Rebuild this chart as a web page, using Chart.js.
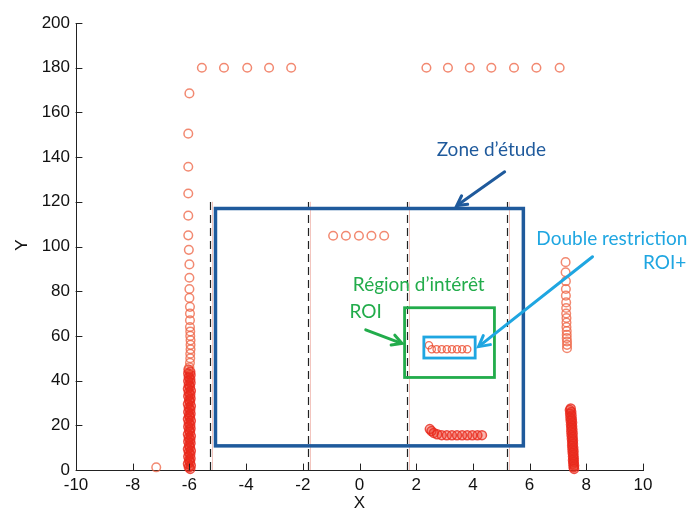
<!DOCTYPE html>
<html>
<head>
<meta charset="utf-8">
<script src="https://cdn.jsdelivr.net/npm/chart.js@4.4.1/dist/chart.umd.min.js"></script>
<style>
  html, body { margin: 0; padding: 0; background: #fff; }
  #chart { display: block; }
</style>
</head>
<body>
<canvas id="chart" width="689" height="514"></canvas>
<script>
// Axis ticks
const xTicks = [-10, -8, -6, -4, -2, 0, 2, 4, 6, 8, 10];
const yTicks = [0, 20, 40, 60, 80, 100, 120, 140, 160, 180, 200];

// Point groups, [x, y]
const lonePoint = [[-7.17, 1.2]];
const leftColumn = [
  [-6.0, 168.5], [-6.04, 150.5], [-6.04, 135.7], [-6.04, 123.7], [-6.04, 113.8],
  [-6.04, 105], [-6.02, 98.5], [-6.0, 92], [-6.0, 86], [-6.0, 81], [-6.0, 77],
  [-5.98, 73], [-5.98, 70], [-5.98, 67], [-5.98, 64], [-5.97, 62], [-5.97, 60],
  [-5.96, 58], [-5.96, 56], [-5.96, 54], [-5.97, 52], [-5.97, 50], [-5.98, 48], [-6.0, 46]
];
const leftDense = [
  [-6.03, 45], [-5.97, 44], [-6.04, 43.2], [-5.96, 42.5], [-6.02, 41.5], [-5.97, 40.6],
  [-6.04, 39.8], [-5.96, 39], [-6.02, 38], [-5.98, 37.2], [-6.05, 36.4], [-5.95, 35.5],
  [-6.02, 34.7], [-5.97, 33.8], [-6.04, 33], [-5.96, 32], [-6.01, 31.2], [-5.98, 30.4],
  [-6.05, 29.5], [-5.95, 28.6], [-6.02, 27.8], [-5.97, 27], [-6.04, 26], [-5.96, 25.2],
  [-6.01, 24.4], [-5.98, 23.6], [-6.05, 22.8], [-5.95, 22], [-6.02, 21], [-5.97, 20.2],
  [-6.04, 19.4], [-5.96, 18.6], [-6.01, 17.8], [-5.98, 17], [-6.05, 16], [-5.95, 15.2],
  [-6.02, 14.4], [-5.97, 13.6], [-6.04, 12.8], [-5.96, 12], [-6.01, 11], [-5.98, 10.2],
  [-6.05, 9.4], [-5.95, 8.6], [-6.02, 7.8], [-5.97, 7], [-6.04, 6], [-5.96, 5.2],
  [-6.01, 4.4], [-5.98, 3.6], [-6.05, 2.8], [-5.95, 2], [-6.02, 1.2], [-5.97, 0.5]
];
const topLeftRow = [[-5.56, 180], [-4.78, 180], [-3.96, 180], [-3.19, 180], [-2.41, 180]];
const topRightRow = [[2.36, 180], [3.12, 180], [3.89, 180], [4.65, 180], [5.45, 180], [6.24, 180], [7.06, 180]];
const middleRow = [[-0.93, 104.8], [-0.48, 104.8], [-0.02, 104.8], [0.42, 104.8], [0.87, 104.8]];
const roiPlusRow = [
  [2.45, 55.8], [2.55, 54], [2.72, 54], [2.9, 54], [3.08, 54], [3.26, 54],
  [3.44, 54], [3.62, 54], [3.8, 54]
];
const bottomRow = [
  [2.48, 18.3], [2.54, 17.4], [2.62, 16.6], [2.74, 16], [2.9, 15.6], [3.08, 15.5],
  [3.26, 15.5], [3.44, 15.5], [3.62, 15.5], [3.8, 15.5], [3.98, 15.5], [4.16, 15.5],
  [4.32, 15.6]
];
const rightColumn = [
  [7.27, 93], [7.27, 88.5], [7.28, 84.5], [7.28, 81], [7.28, 78], [7.29, 75], [7.29, 72.5],
  [7.29, 70], [7.3, 68], [7.3, 66], [7.3, 64], [7.31, 62.2], [7.31, 60.5], [7.31, 59],
  [7.32, 57.5], [7.32, 56], [7.32, 54.5]
];
const rightDense = [
  [7.45, 27.5], [7.42, 26.8], [7.47, 26], [7.43, 25.2], [7.48, 24.4], [7.44, 23.5],
  [7.49, 22.7], [7.45, 22], [7.5, 21.2], [7.46, 20.4], [7.5, 19.6], [7.47, 18.8],
  [7.51, 18], [7.47, 17.2], [7.52, 16.4], [7.48, 15.6], [7.52, 14.8], [7.49, 14],
  [7.53, 13.2], [7.5, 12.4], [7.53, 11.6], [7.5, 10.8], [7.54, 10], [7.51, 9.2],
  [7.55, 8.4], [7.52, 7.6], [7.55, 6.8], [7.53, 6], [7.56, 5.2], [7.53, 4.4],
  [7.56, 3.6], [7.54, 2.8], [7.57, 2], [7.55, 1.2], [7.57, 0.5]
];

// Annotation geometry in data units
const dashedLinesX = [-5.29, -1.8, 1.67, 5.2];
const dashedTopY = 120;
const zoneBox = [-5.08, 10.8, 5.78, 117];   // x0, y0, x1, y1
const roiBox = [1.59, 41.4, 4.76, 72.6];
const roiPlusBox = [2.27, 50.1, 4.08, 59.5];

const zoneColor = '#1f5a9c';
const roiColor = '#22ac4b';
const roiPlusColor = '#1fa6e1';
const pointColor = 'rgba(238, 98, 66, 0.75)';
const denseColor = 'rgba(232, 40, 28, 0.8)';
const denseFill = 'rgba(235, 45, 30, 0.35)';

const sparseGroups = [lonePoint, leftColumn, topLeftRow, topRightRow, middleRow, rightColumn];
const denseGroups = [leftDense, bottomRow, rightDense];

const datasets = [
  ...sparseGroups.map(g => ({
    data: g.map(p => ({ x: p[0], y: p[1] })),
    pointRadius: 4.3,
    pointBorderWidth: 1.5,
    pointBorderColor: pointColor,
    pointBackgroundColor: 'rgba(0,0,0,0)'
  })),
  {
    data: roiPlusRow.map(p => ({ x: p[0], y: p[1] })),
    pointRadius: 3.6,
    pointBorderWidth: 1.3,
    pointBorderColor: 'rgba(236, 72, 42, 0.8)',
    pointBackgroundColor: 'rgba(0,0,0,0)'
  },
  ...denseGroups.map(g => ({
    data: g.map(p => ({ x: p[0], y: p[1] })),
    pointRadius: 4.5,
    pointBorderWidth: 1.5,
    pointBorderColor: denseColor,
    pointBackgroundColor: denseFill
  }))
].map(d => Object.assign(d, { showLine: false, pointStyle: 'circle', clip: false }));

function arrow(ctx, x0, y0, x1, y1, color, width, head) {
  const a = Math.atan2(y1 - y0, x1 - x0);
  ctx.strokeStyle = color;
  ctx.lineWidth = width;
  ctx.lineCap = 'round';
  ctx.beginPath();
  ctx.moveTo(x0, y0);
  ctx.lineTo(x1 - Math.cos(a) * 2, y1 - Math.sin(a) * 2);
  ctx.stroke();
  ctx.beginPath();
  ctx.moveTo(x1 - head * Math.cos(a - 0.5), y1 - head * Math.sin(a - 0.5));
  ctx.lineTo(x1, y1);
  ctx.lineTo(x1 - head * Math.cos(a + 0.5), y1 - head * Math.sin(a + 0.5));
  ctx.stroke();
}

// Draw boxes, dashed lines, arrows, labels, inward ticks
const annotations = {
  id: 'annotations',
  beforeDatasetsDraw(chart) {
    const ctx = chart.ctx;
    const xs = chart.scales.x, ys = chart.scales.y;
    const px = v => xs.getPixelForValue(v);
    const py = v => ys.getPixelForValue(v);
    ctx.save();
    // dashed verticals
    dashedLinesX.forEach(v => {
      const x = Math.round(px(v)) + 0.5;
      ctx.setLineDash([]);
      ctx.strokeStyle = 'rgba(220, 90, 70, 0.35)';
      ctx.lineWidth = 1;
      ctx.beginPath();
      ctx.moveTo(x + 2, py(0));
      ctx.lineTo(x + 2, py(dashedTopY));
      ctx.stroke();
      ctx.setLineDash([8, 5]);
      ctx.strokeStyle = '#222';
      ctx.lineWidth = 1.2;
      ctx.beginPath();
      ctx.moveTo(x, py(0));
      ctx.lineTo(x, py(dashedTopY));
      ctx.stroke();
    });
    ctx.setLineDash([]);
    ctx.restore();
  },
  afterDatasetsDraw(chart) {
    const ctx = chart.ctx;
    const xs = chart.scales.x, ys = chart.scales.y;
    const px = v => xs.getPixelForValue(v);
    const py = v => ys.getPixelForValue(v);
    ctx.save();
    const box = (b, color, w) => {
      ctx.strokeStyle = color;
      ctx.lineWidth = w;
      ctx.lineJoin = 'miter';
      ctx.strokeRect(px(b[0]), py(b[3]), px(b[2]) - px(b[0]), py(b[1]) - py(b[3]));
    };
    box(zoneBox, zoneColor, 3.5);
    box(roiBox, roiColor, 2.8);
    box(roiPlusBox, roiPlusColor, 2.8);

    arrow(ctx, px(5.12), py(133.4), px(3.43), py(118.3), zoneColor, 3, 11);
    arrow(ctx, px(0.22), py(62.7), px(1.5), py(56.6), roiColor, 3, 11);
    arrow(ctx, px(8.22), py(95.4), px(4.2), py(55.2), roiPlusColor, 3, 12);

    ctx.font = '19px Lato, "Open Sans", sans-serif';
    ctx.textBaseline = 'middle';
    ctx.textAlign = 'center';
    ctx.fillStyle = zoneColor;
    ctx.fillText('Zone d\u2019étude', px(4.65), py(143.3));
    ctx.fillStyle = roiColor;
    ctx.fillText('Région d\u2019intérêt', px(2.09), py(82.8));
    ctx.fillText('ROI', px(0.22), py(70.7));
    ctx.fillStyle = roiPlusColor;
    ctx.fillText('Double restriction', px(8.9), py(103.4));
    ctx.textAlign = 'right';
    ctx.fillText('ROI+', px(11.53), py(92.7));

    // inward tick marks
    ctx.strokeStyle = '#222';
    ctx.lineWidth = 1;
    const bottom = ys.getPixelForValue(0), left = xs.getPixelForValue(-10);
    xTicks.forEach(v => {
      const x = Math.round(px(v)) + 0.5;
      ctx.beginPath();
      ctx.moveTo(x, bottom);
      ctx.lineTo(x, bottom - 6);
      ctx.stroke();
    });
    yTicks.forEach(v => {
      const y = Math.round(py(v)) + 0.5;
      ctx.beginPath();
      ctx.moveTo(left, y);
      ctx.lineTo(left + 6, y);
      ctx.stroke();
    });

    // axis titles
    ctx.fillStyle = '#111';
    ctx.font = '17px "Liberation Sans", Arial, sans-serif';
    ctx.textAlign = 'center';
    ctx.fillText('X', px(0), 503);
    ctx.translate(22, 245);
    ctx.rotate(-Math.PI / 2);
    ctx.fillText('Y', 0, 0);
    ctx.restore();
  }
};

const tickFont = { family: '"Liberation Sans", Arial, sans-serif', size: 17 };

new Chart(document.getElementById('chart'), {
  type: 'scatter',
  data: { datasets },
  plugins: [annotations],
  options: {
    responsive: false,
    devicePixelRatio: 1,
    animation: false,
    layout: { padding: { top: 23, right: 46, left: 0, bottom: 0 } },
    plugins: { legend: { display: false }, tooltip: { enabled: false } },
    scales: {
      x: {
        type: 'linear',
        min: -10, max: 10,
        afterBuildTicks: s => { s.ticks = xTicks.map(v => ({ value: v })); },
        afterFit: s => { s.height = 44; },
        grid: { display: false, drawTicks: false, tickLength: 0 },
        border: { display: true, color: '#222', width: 1 },
        ticks: { color: '#111', padding: 5, font: tickFont }
      },
      y: {
        type: 'linear',
        min: 0, max: 200,
        afterBuildTicks: s => { s.ticks = yTicks.map(v => ({ value: v })); },
        afterFit: s => { s.width = 76; },
        grid: { display: false, drawTicks: false, tickLength: 0 },
        border: { display: true, color: '#222', width: 1 },
        ticks: { color: '#111', padding: 6, font: tickFont }
      }
    }
  }
});
</script>
</body>
</html>
